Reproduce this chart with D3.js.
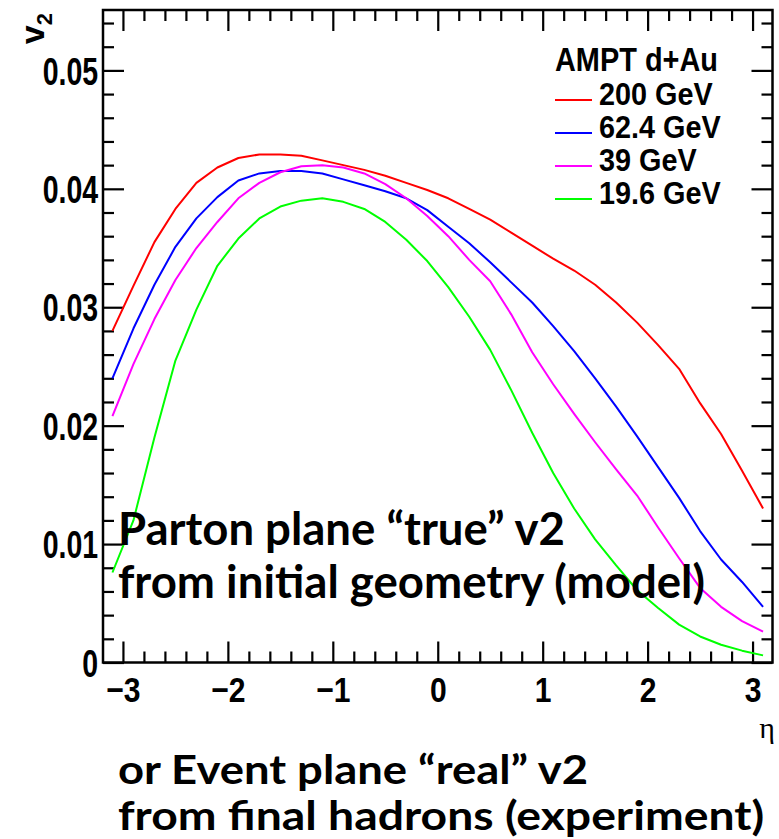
<!DOCTYPE html>
<html>
<head>
<meta charset="utf-8">
<script src="https://cdn.jsdelivr.net/npm/d3@7"></script>
<style>
  html, body { margin: 0; padding: 0; background: #fff; }
  svg { display: block; }
</style>
</head>
<body>
<svg id="chart" width="779" height="839"></svg>
<script>
// ---------------- data ----------------
const eta = [-3.1, -2.9, -2.7, -2.5, -2.3, -2.1, -1.9, -1.7, -1.5, -1.3, -1.1, -0.9, -0.7, -0.5, -0.3, -0.1,
             0.1, 0.3, 0.5, 0.7, 0.9, 1.1, 1.3, 1.5, 1.7, 1.9, 2.1, 2.3, 2.5, 2.7, 2.9, 3.1];

const v2_200 = [0.0280, 0.0318, 0.0355, 0.0383, 0.0405, 0.0418, 0.0426, 0.0429, 0.0429, 0.0428, 0.0424, 0.0420,
                0.0416, 0.0411, 0.0405, 0.0399, 0.0392, 0.0383, 0.0374, 0.0363, 0.0352, 0.0341, 0.0331, 0.0319,
                0.0304, 0.0287, 0.0268, 0.0248, 0.0219, 0.0193, 0.0162, 0.0130];
const v2_62 = [0.0240, 0.0282, 0.0319, 0.0351, 0.0375, 0.0393, 0.0407, 0.0413, 0.0415, 0.0415, 0.0413, 0.0408,
               0.0403, 0.0398, 0.0392, 0.0382, 0.0368, 0.0354, 0.0338, 0.0321, 0.0304, 0.0284, 0.0263, 0.0240,
               0.0216, 0.0191, 0.0165, 0.0139, 0.0111, 0.0087, 0.0068, 0.0047];
const v2_39 = [0.0208, 0.0252, 0.0290, 0.0323, 0.0350, 0.0372, 0.0392, 0.0405, 0.0414, 0.0419, 0.0420, 0.0418,
               0.0413, 0.0404, 0.0392, 0.0377, 0.0360, 0.0340, 0.0322, 0.0294, 0.0262, 0.0235, 0.0210, 0.0186,
               0.0163, 0.0141, 0.0114, 0.0088, 0.0063, 0.0047, 0.0035, 0.0026];
const v2_19 = [0.0076, 0.0120, 0.0190, 0.0255, 0.0298, 0.0335, 0.0358, 0.0375, 0.0385, 0.0390, 0.0392, 0.0389,
               0.0383, 0.0372, 0.0357, 0.0339, 0.0317, 0.0292, 0.0264, 0.0230, 0.0194, 0.0160, 0.0130, 0.0104,
               0.0082, 0.0061, 0.0046, 0.0032, 0.0022, 0.0015, 0.0010, 0.0006];

const seriesNames = ["200 GeV", "62.4 GeV", "39 GeV", "19.6 GeV"];
const seriesColors = ["#ff0000", "#0000ff", "#ff00ff", "#00ff00"];
const seriesValues = [v2_200, v2_62, v2_39, v2_19];

const legendTitle = "AMPT d+Au";
const xTicks = [-3, -2, -1, 0, 1, 2, 3];
const xTickLabels = ["−3", "−2", "−1", "0", "1", "2", "3"];
const yTicks = [0, 0.01, 0.02, 0.03, 0.04, 0.05];
const yTickLabels = ["0", "0.01", "0.02", "0.03", "0.04", "0.05"];
const xTitle = "η";
const yTitle = "v";
const yTitleSub = "2";
const annotationTop = ["Parton plane “true” v2", "from initial geometry (model)"];
const annotationBottom = ["or Event plane “real” v2", "from final hadrons (experiment)"];

// ---------------- layout ----------------
const L = 103, R = 772.5, T = 10, B = 662.5;
const svg = d3.select("#chart");
svg.append("rect").attr("width", 779).attr("height", 839).attr("fill", "#fff");

const x = d3.scaleLinear().domain([-3.19, 3.19]).range([L, R]);
const y = d3.scaleLinear().domain([0, 0.0551]).range([B, T]);

const xMinor = d3.range(-3.0, 3.0001, 0.2).map(v => +v.toFixed(2)).filter(v => Math.abs(v - Math.round(v)) > 1e-6);
const yMinor = d3.range(0, 0.0551, 0.002).map(v => +v.toFixed(4)).filter(v => Math.abs(v * 100 - Math.round(v * 100)) > 1e-6);

const MAJ = 21, MIN = 11;
const fontRoot = "'Liberation Sans', Arial, Helvetica, sans-serif";

function styleAxis(g) {
  g.select(".domain").remove();
  g.selectAll(".tick line").attr("stroke", "#000").attr("stroke-width", 2.2);
}

// minor ticks
svg.append("g").attr("transform", `translate(0,${B})`)
  .call(d3.axisBottom(x).tickValues(xMinor).tickSizeInner(-MIN).tickSizeOuter(0).tickFormat(""))
  .call(styleAxis);
svg.append("g").attr("transform", `translate(0,${T})`)
  .call(d3.axisTop(x).tickValues(xMinor).tickSizeInner(-MIN).tickSizeOuter(0).tickFormat(""))
  .call(styleAxis);
svg.append("g").attr("transform", `translate(${L},0)`)
  .call(d3.axisLeft(y).tickValues(yMinor).tickSizeInner(-MIN).tickSizeOuter(0).tickFormat(""))
  .call(styleAxis);
svg.append("g").attr("transform", `translate(${R},0)`)
  .call(d3.axisRight(y).tickValues(yMinor).tickSizeInner(-MIN).tickSizeOuter(0).tickFormat(""))
  .call(styleAxis);

// major ticks
const xAxisG = svg.append("g").attr("transform", `translate(0,${B})`)
  .call(d3.axisBottom(x).tickValues(xTicks).tickSizeInner(-MAJ).tickSizeOuter(0).tickPadding(14.5)
        .tickFormat((d, i) => xTickLabels[i]))
  .call(styleAxis);
xAxisG.selectAll(".tick text")
  .attr("font-family", fontRoot).attr("font-weight", "bold").attr("font-size", 35).attr("fill", "#000")
  .attr("transform", "scale(0.86,1)");

svg.append("g").attr("transform", `translate(0,${T})`)
  .call(d3.axisTop(x).tickValues(xTicks).tickSizeInner(-MAJ).tickSizeOuter(0).tickFormat(""))
  .call(styleAxis);

const yAxisG = svg.append("g").attr("transform", `translate(${L},0)`)
  .call(d3.axisLeft(y).tickValues(yTicks).tickSizeInner(-MAJ).tickSizeOuter(0).tickPadding(6.5)
        .tickFormat((d, i) => yTickLabels[i]))
  .call(styleAxis);
yAxisG.selectAll(".tick text")
  .attr("font-family", fontRoot).attr("font-weight", "bold").attr("font-size", 38).attr("fill", "#000")
  .attr("dy", "0.36em")
  .attr("transform", "scale(0.75,1)");

svg.append("g").attr("transform", `translate(${R},0)`)
  .call(d3.axisRight(y).tickValues(yTicks).tickSizeInner(-MAJ).tickSizeOuter(0).tickFormat(""))
  .call(styleAxis);

// frame
svg.append("rect").attr("x", L).attr("y", T).attr("width", R - L).attr("height", B - T)
  .attr("fill", "none").attr("stroke", "#000").attr("stroke-width", 2.5);

// curves
const line = d3.line().x((d, i) => x(eta[i])).y(d => y(d));
seriesValues.forEach((vals, k) => {
  svg.append("path").datum(vals)
    .attr("d", line)
    .attr("fill", "none")
    .attr("stroke", seriesColors[k])
    .attr("stroke-width", 2)
    .attr("stroke-linejoin", "round");
});

// legend
svg.append("text").attr("transform", "translate(555,71) scale(0.85,1)")
  .attr("font-family", fontRoot).attr("font-weight", "bold").attr("font-size", 34).attr("fill", "#000")
  .text(legendTitle);
const legY = [100, 133, 166, 199];
seriesNames.forEach((name, k) => {
  svg.append("line").attr("x1", 555).attr("x2", 592).attr("y1", legY[k]).attr("y2", legY[k])
    .attr("stroke", seriesColors[k]).attr("stroke-width", 2);
  svg.append("text").attr("transform", `translate(599,${legY[k] + 5}) scale(0.93,1)`)
    .attr("font-family", fontRoot).attr("font-weight", "bold").attr("font-size", 31).attr("fill", "#000")
    .text(name);
});

// axis titles
const yt = svg.append("text").attr("transform", "translate(44,13) rotate(-90)")
  .attr("text-anchor", "end")
  .attr("font-family", fontRoot).attr("font-weight", "bold").attr("font-size", 34).attr("fill", "#000");
yt.append("tspan").text(yTitle);
yt.append("tspan").attr("font-size", 22).attr("dy", 8).text(yTitleSub);

svg.append("text").attr("x", 767).attr("y", 738).attr("text-anchor", "middle")
  .attr("font-family", "'Liberation Serif', 'DejaVu Serif', serif").style("font-size", "30px").attr("fill", "#000")
  .text(xTitle);

// annotations (fit widths; slight vertical compression to mimic Calibri metrics)
function fitText(str, xPos, yPos, targetW, sy) {
  const t = svg.append("text")
    .attr("transform", `translate(${xPos},${yPos}) scale(1,${sy})`)
    .attr("font-family", "Lato, 'Open Sans', sans-serif").attr("font-weight", "bold")
    .attr("font-size", 40).attr("fill", "#000").text(str);
  const w = t.node().getComputedTextLength();
  t.attr("font-size", 40 * targetW / w);
}
fitText(annotationTop[0], 118, 545, 447, 1);
fitText(annotationTop[1], 118, 598, 587, 1);
fitText(annotationBottom[0], 118, 784, 470, 0.88);
fitText(annotationBottom[1], 118, 830, 646, 0.88);
</script>
</body>
</html>
